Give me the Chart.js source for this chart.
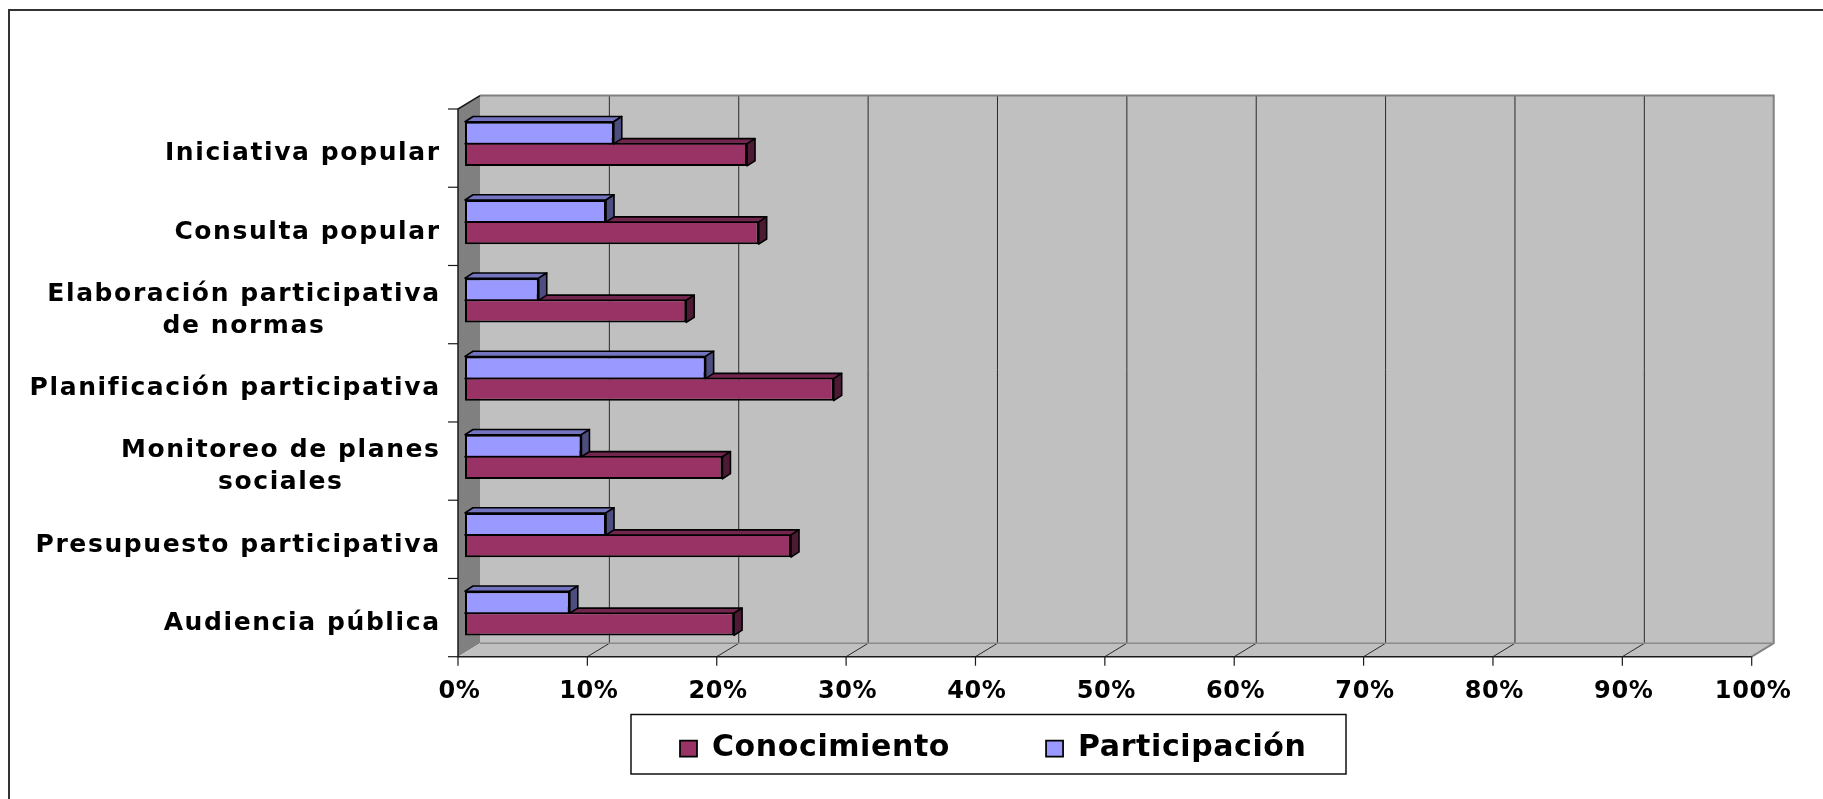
<!DOCTYPE html>
<html>
<head>
<meta charset="utf-8">
<style>
html,body{margin:0;padding:0;background:#fff;overflow:hidden}
#wrap{width:1823px;height:799px;position:relative;background:#fff}
</style>
<script src="https://cdn.jsdelivr.net/npm/chart.js@4.4.1/dist/chart.umd.min.js"></script>
</head>
<body>
<div id="wrap"><canvas id="c" width="1823" height="799"></canvas></div>
<script>
// ---- data ----
const categories = [
  ['Iniciativa popular'],
  ['Consulta popular'],
  ['Elaboración participativa', 'de normas'],
  ['Planificación participativa'],
  ['Monitoreo de planes', 'sociales'],
  ['Presupuesto participativa'],
  ['Audiencia pública']
];
const seriesNames = ['Conocimiento', 'Participación'];
const conocimiento = [21.8, 22.7, 17.1, 28.5, 19.9, 25.2, 20.8];
const participacion = [11.5, 10.9, 5.7, 18.6, 9.0, 10.9, 8.1];
const xTickValues = [0, 10, 20, 30, 40, 50, 60, 70, 80, 90, 100];
const xTickLabels = ['0%', '10%', '20%', '30%', '40%', '50%', '60%', '70%', '80%', '90%', '100%'];

// ---- style ----
const FONT = '"DejaVu Sans", Verdana, sans-serif';
const FRONT = {dx: -7, dy: 4.3};   // bar plane -> front plane
const BACK = {dx: 15, dy: -9.1};   // bar plane -> back wall
const BAR = {dx: 8, dy: -5.2};     // bar depth
const faceColors = {
  0: {top: '#7373bf', side: '#4d4d80'},
  1: {top: '#73264d', side: '#4d1a33'}
};

function poly(ctx, pts, fill, stroke, lw) {
  ctx.beginPath();
  ctx.moveTo(pts[0][0], pts[0][1]);
  for (let i = 1; i < pts.length; i++) ctx.lineTo(pts[i][0], pts[i][1]);
  ctx.closePath();
  if (fill) { ctx.fillStyle = fill; ctx.fill(); }
  if (stroke) { ctx.strokeStyle = stroke; ctx.lineWidth = lw || 1; ctx.stroke(); }
}
function line(ctx, pts, color, lw) {
  ctx.beginPath();
  ctx.moveTo(pts[0][0], pts[0][1]);
  for (let i = 1; i < pts.length; i++) ctx.lineTo(pts[i][0], pts[i][1]);
  ctx.strokeStyle = color; ctx.lineWidth = lw; ctx.stroke();
}

const threeD = {
  id: 'threeD',
  afterLayout(chart) {
    const lg = chart.legend;
    if (!lg) return;
    const p = lg.options.labels.padding;
    lg.left = 680 - p;
    lg.right = chart.width;
    lg.top = 733.5 - p;
    lg.bottom = lg.top + p + 40;
  },
  beforeDraw(chart) {
    chart.ctx.letterSpacing = '0.6px';
  },
  beforeDatasetsDraw(chart) {
    const {ctx, chartArea: a, scales: {x, y}} = chart;
    const x0 = x.getPixelForValue(xTickValues[0]);
    const x1 = x.getPixelForValue(xTickValues[xTickValues.length - 1]);
    const t = a.top, b = a.bottom;
    ctx.save();
    ctx.fillStyle = '#c0c0c0';
    ctx.fillRect(x0 + BACK.dx, t + BACK.dy, x1 - x0, b - t);
    poly(ctx, [[x0 + FRONT.dx, t + FRONT.dy], [x0 + BACK.dx, t + BACK.dy], [x0 + BACK.dx, b + BACK.dy], [x0 + FRONT.dx, b + FRONT.dy]], '#808080');
    poly(ctx, [[x0 + FRONT.dx, b + FRONT.dy], [x1 + FRONT.dx, b + FRONT.dy], [x1 + BACK.dx, b + BACK.dy], [x0 + BACK.dx, b + BACK.dy]], '#c0c0c0');
    xTickValues.forEach(v => {
      if (v === xTickValues[0] || v === xTickValues[xTickValues.length - 1]) return;
      const px = x.getPixelForValue(v);
      line(ctx, [[px + BACK.dx, t + BACK.dy], [px + BACK.dx, b + BACK.dy], [px + FRONT.dx, b + FRONT.dy]], '#2a2a2a', 1);
    });
    line(ctx, [[x0 + BACK.dx, t + BACK.dy], [x1 + BACK.dx, t + BACK.dy], [x1 + BACK.dx, b + BACK.dy], [x1 + FRONT.dx, b + FRONT.dy]], '#808080', 2);
    line(ctx, [[x0 + BACK.dx, b + BACK.dy], [x1 + BACK.dx, b + BACK.dy]], '#8a8a8a', 1.5);
    line(ctx, [[x0 + BACK.dx, t + BACK.dy], [x0 + FRONT.dx, t + FRONT.dy], [x0 + FRONT.dx, b + FRONT.dy], [x1 + FRONT.dx, b + FRONT.dy]], '#1a1a1a', 1.5);
    xTickValues.forEach(v => {
      const px = x.getPixelForValue(v) + FRONT.dx;
      line(ctx, [[px, b + FRONT.dy], [px, b + FRONT.dy + 9]], '#1a1a1a', 1.2);
    });
    const band = y.getPixelForValue(1) - y.getPixelForValue(0);
    for (let i = 0; i <= categories.length; i++) {
      const py = y.getPixelForValue(0) - band / 2 + i * band + FRONT.dy;
      line(ctx, [[x0 + FRONT.dx - 10, py], [x0 + FRONT.dx, py]], '#1a1a1a', 1.2);
    }
    ctx.restore();
  },
  beforeDatasetDraw(chart, args) {
    const {ctx} = chart;
    const meta = args.meta;
    const col = faceColors[meta.index];
    ctx.save();
    ctx.lineJoin = 'round';
    meta.data.forEach(bar => {
      const p = bar.getProps(['x', 'y', 'base', 'height'], true);
      const top = p.y - p.height / 2, bot = p.y + p.height / 2;
      const l = p.base, r = p.x;
      poly(ctx, [[l, top], [l + BAR.dx, top + BAR.dy], [r + BAR.dx, top + BAR.dy], [r, top]], col.top, '#000', 1.6);
      poly(ctx, [[r, top], [r + BAR.dx, top + BAR.dy], [r + BAR.dx, bot + BAR.dy], [r, bot]], col.side, '#000', 1.6);
    });
    ctx.restore();
  },
  afterDatasetsDraw(chart) {
    chart.ctx.letterSpacing = '2.8px';
  },
  afterDraw(chart) {
    const {ctx, scales: {x, y}} = chart;
    ctx.save();
    const ls = 1.6;
    ctx.letterSpacing = ls + 'px';
    ctx.font = 'bold 25px ' + FONT;
    ctx.fillStyle = '#000';
    ctx.textBaseline = 'middle';
    ctx.textAlign = 'center';
    const right = x.getPixelForValue(0) + FRONT.dx - 19 + ls;
    const lh = 32;
    categories.forEach((lines, i) => {
      const cy = y.getPixelForValue(i) + 10;
      const maxW = Math.max(...lines.map(s => ctx.measureText(s).width));
      const cx = right - maxW / 2;
      lines.forEach((s, j) => {
        ctx.fillText(s, cx, cy + (j - (lines.length - 1) / 2) * lh);
      });
    });
    ctx.letterSpacing = '0px';
    ctx.strokeStyle = '#111';
    ctx.lineWidth = 1.5;
    ctx.strokeRect(631, 714.5, 715, 59.5);
    line(ctx, [[9, 799], [9, 10], [1823, 10]], '#333', 2);
    ctx.restore();
    ctx.letterSpacing = '0px';
  }
};

const chart = new Chart(document.getElementById('c'), {
  type: 'bar',
  data: {
    labels: categories,
    datasets: [
      {
        label: seriesNames[1],
        data: participacion,
        backgroundColor: '#9999ff',
        borderColor: '#000',
        borderWidth: {top: 2, left: 2, right: 2, bottom: 1},
        borderSkipped: false
      },
      {
        label: seriesNames[0],
        data: conocimiento,
        backgroundColor: '#993366',
        borderColor: '#000',
        borderWidth: {top: 1, left: 2, right: 2, bottom: 2},
        borderSkipped: false
      }
    ]
  },
  options: {
    indexAxis: 'y',
    responsive: false,
    animation: false,
    devicePixelRatio: 1,
    layout: {padding: {top: 104.7, right: 64.3, bottom: 0, left: 0}},
    datasets: {bar: {barPercentage: 1, categoryPercentage: 0.565}},
    scales: {
      x: {
        type: 'linear',
        min: xTickValues[0],
        max: xTickValues[xTickValues.length - 1],
        position: 'bottom',
        z: 1,
        afterBuildTicks(scale) { scale.ticks = xTickValues.map(v => ({value: v})); },
        ticks: {
          callback: (v, i) => xTickLabels[i],
          font: {family: FONT, size: 24, weight: 'bold'},
          color: '#000',
          padding: 25.2,
          labelOffset: FRONT.dx + 1.4,
          maxRotation: 0,
          autoSkip: false
        },
        grid: {display: false, drawTicks: false},
        border: {display: false},
        afterFit(scale) { scale.height = 145.6; }
      },
      y: {
        type: 'category',
        ticks: {display: false},
        grid: {display: false, drawTicks: false},
        border: {display: false},
        afterFit(scale) { scale.width = 465; }
      }
    },
    plugins: {
      tooltip: {enabled: false},
      title: {display: false},
      legend: {
        display: true,
        position: 'bottom',
        align: 'start',
        maxHeight: 1,
        labels: {
          boxWidth: 17,
          boxHeight: 16,
          padding: 96,
          color: '#000',
          font: {family: FONT, size: 30, weight: 'bold'},
          sort: (a, b) => b.datasetIndex - a.datasetIndex
        }
      }
    }
  },
  plugins: [threeD]
});
</script>
</body>
</html>
